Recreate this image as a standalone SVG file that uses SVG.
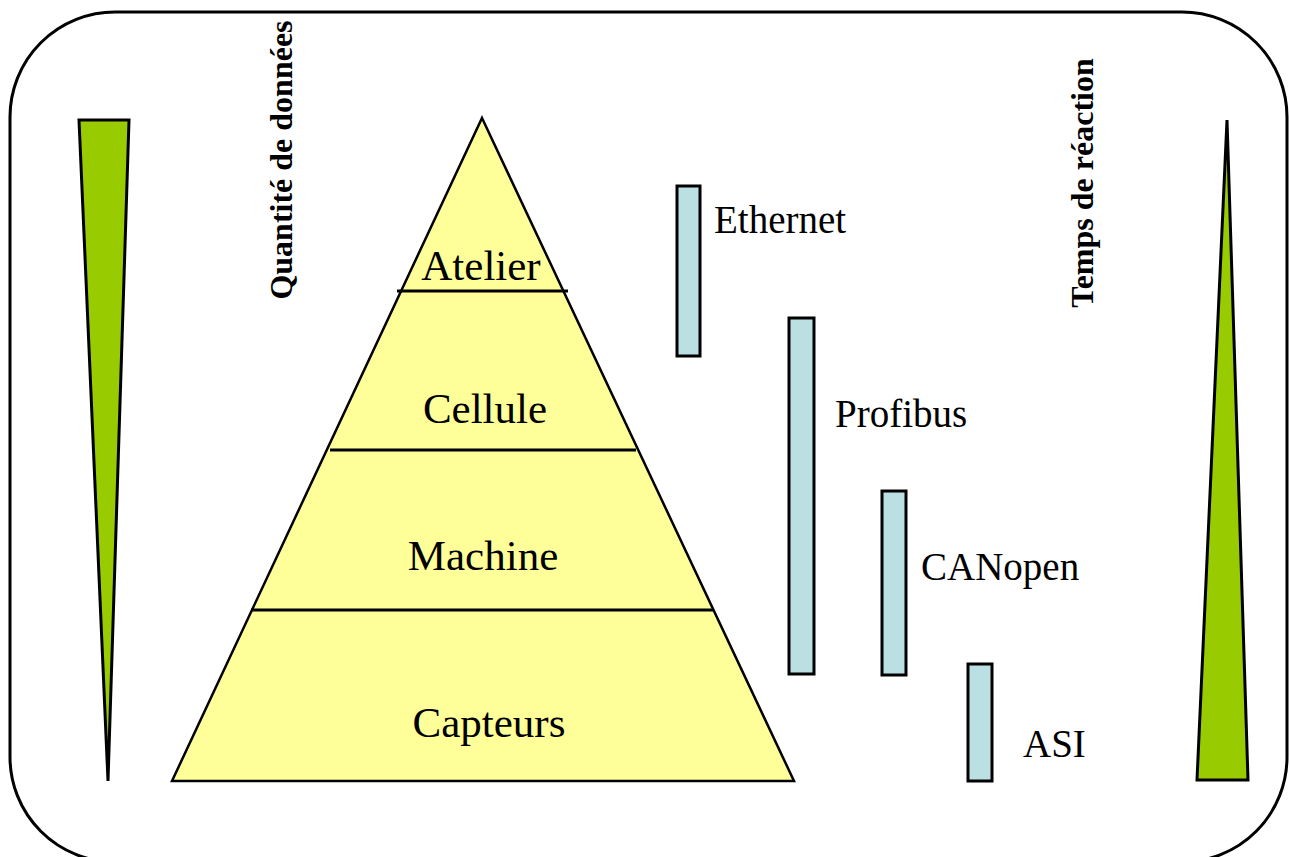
<svg xmlns="http://www.w3.org/2000/svg" width="1290" height="857" viewBox="0 0 1290 857">
<style>
.frame{fill:none;stroke:#000;stroke-width:3}
.green{fill:#99CC00;stroke:#000;stroke-width:3;stroke-linejoin:miter}
.pyr{fill:#FFFF99;stroke:#000;stroke-width:2.5}
.lvl{stroke:#000;stroke-width:3}
.bar{fill:#BBE0E3;stroke:#000;stroke-width:3}
.t{font-family:"Liberation Serif","Times New Roman",serif;font-size:43px;fill:#000}
.tl{font-family:"Liberation Serif","Times New Roman",serif;font-size:39px;fill:#000}
.v{font-family:"Liberation Serif","Times New Roman",serif;font-size:32px;font-weight:bold;fill:#000}
</style>
<rect width="1290" height="857" fill="#fff"/>
<rect id="frame" class="frame" x="10" y="12" width="1277" height="850" rx="105" ry="105"/>
<g id="quantite">
<polygon class="green" points="79,120 129,120 108,781"/>
<text class="v" transform="translate(292,160) rotate(-90)" text-anchor="middle">Quantité de données</text>
</g>
<g id="temps">
<polygon class="green" points="1227,120 1248,780 1197,780"/>
<text class="v" transform="translate(1093,183) rotate(-90)" text-anchor="middle">Temps de réaction</text>
</g>
<g id="pyramide">
<polygon class="pyr" points="482,118 794,781 172,781"/>
<line class="lvl" x1="397" y1="291" x2="568" y2="291"/>
<line class="lvl" x1="330" y1="450" x2="636" y2="450"/>
<line class="lvl" x1="251" y1="610" x2="714" y2="610"/>
</g>
<g id="atelier"><text class="t" x="481" y="280" text-anchor="middle">Atelier</text></g>
<g id="cellule"><text class="t" x="485" y="423" text-anchor="middle">Cellule</text></g>
<g id="machine"><text class="t" x="483" y="570" text-anchor="middle">Machine</text></g>
<g id="capteurs"><text class="t" x="489" y="737" text-anchor="middle">Capteurs</text></g>
<g id="ethernet">
<rect class="bar" x="677" y="186" width="23" height="170"/>
<text class="tl" x="714" y="233">Ethernet</text>
</g>
<g id="profibus">
<rect class="bar" x="789" y="318" width="25" height="356"/>
<text class="tl" x="835" y="427">Profibus</text>
</g>
<g id="canopen">
<rect class="bar" x="882" y="491" width="24" height="184"/>
<text class="tl" x="921" y="580">CANopen</text>
</g>
<g id="asi">
<rect class="bar" x="968" y="664" width="24" height="117"/>
<text class="tl" x="1023" y="757">ASI</text>
</g>
</svg>
